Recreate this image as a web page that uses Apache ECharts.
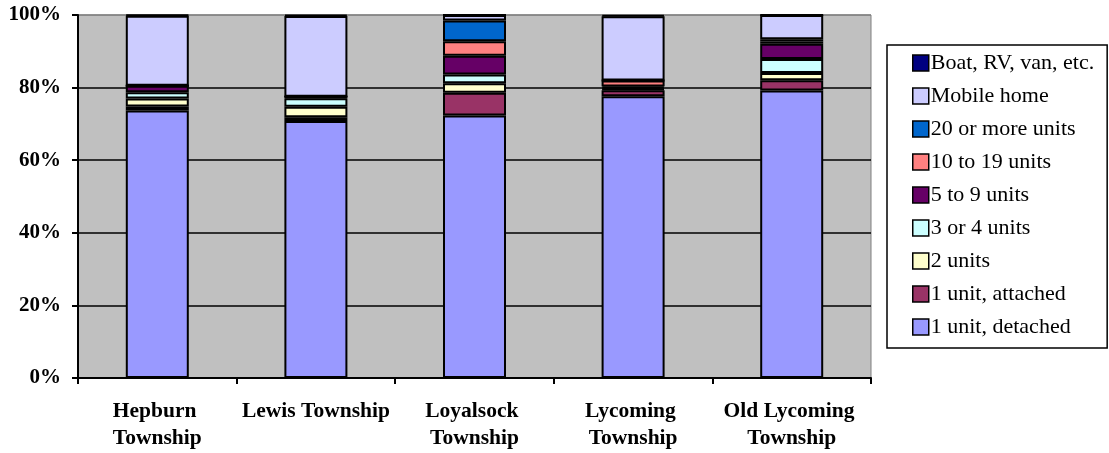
<!DOCTYPE html>
<html>
<head>
<meta charset="utf-8">
<title>Units in Structure by Township</title>
<script src="https://cdn.jsdelivr.net/npm/echarts@6/dist/echarts.min.js"></script>
<style>
  html, body { margin: 0; padding: 0; background: #fff; }
  #chart { width: 1109px; height: 453px; }
</style>
</head>
<body>
<div id="chart"></div>
<script>
// Townships along the category axis
const townships = ['Hepburn Township', 'Lewis Township', 'Loyalsock Township', 'Lycoming Township', 'Old Lycoming Township'];

// Share of housing units (%) by units in structure, one array per type
const oneUnitDetached = [73.7, 70.8, 72.3, 77.6, 79.2];
const oneUnitAttached = [1.1, 1.0, 6.3, 1.7, 2.8];
const twoUnits        = [2.2, 2.9, 2.6, 0.3, 2.0];
const threeOrFour     = [1.7, 2.4, 2.4, 0.3, 3.9];
const fiveToNine      = [1.8, 0.4, 5.2, 0.4, 4.2];
const tenToNineteen   = [0, 0, 4.0, 1.65, 0.6];
const twentyOrMore    = [0, 0, 5.7, 0, 0.6];
const mobileHome      = [19.3, 22.2, 1.5, 17.7, 6.7];
const boatRvVan       = [0.2, 0.3, 0, 0.35, 0];

// Value axis ticks
const yTicks = [0, 20, 40, 60, 80, 100];

const seriesDefs = [
  { name: '1 unit, detached', data: oneUnitDetached, color: '#9999FF' },
  { name: '1 unit, attached', data: oneUnitAttached, color: '#993366' },
  { name: '2 units', data: twoUnits, color: '#FFFFCC' },
  { name: '3 or 4 units', data: threeOrFour, color: '#CCFFFF' },
  { name: '5 to 9 units', data: fiveToNine, color: '#660066' },
  { name: '10 to 19 units', data: tenToNineteen, color: '#FF8080' },
  { name: '20 or more units', data: twentyOrMore, color: '#0066CC' },
  { name: 'Mobile home', data: mobileHome, color: '#CCCCFF' },
  { name: 'Boat, RV, van, etc.', data: boatRvVan, color: '#000080' }
];

const serif = "'Liberation Serif', 'Times New Roman', serif";

const chart = echarts.init(document.getElementById('chart'), null, { renderer: 'canvas' });

chart.setOption({
  animation: false,
  backgroundColor: '#ffffff',
  textStyle: { fontFamily: serif, color: '#000' },
  grid: {
    left: 78, right: 238, top: 15, bottom: 75,
    show: true,
    backgroundColor: '#C0C0C0',
    borderColor: '#808080',
    borderWidth: 1
  },
  legend: {
    orient: 'vertical',
    left: 887,
    top: 45,
    padding: [7, 13, 10, 25],
    backgroundColor: '#ffffff',
    borderColor: '#000000',
    borderWidth: 1.5,
    borderRadius: 0,
    itemWidth: 16,
    itemHeight: 16,
    itemGap: 11,
    icon: 'rect',
    selectedMode: false,
    data: seriesDefs.map(s => s.name).reverse(),
    itemStyle: { borderColor: '#000', borderWidth: 1.5 },
    textStyle: { fontFamily: serif, fontSize: 22, lineHeight: 22, color: '#000', padding: [0, 0, 0, -3] }
  },
  xAxis: {
    type: 'category',
    data: townships,
    boundaryGap: true,
    axisLine: { show: true, lineStyle: { color: '#000', width: 2 } },
    axisTick: { show: true, alignWithLabel: false, length: 6, lineStyle: { color: '#000', width: 2 } },
    axisLabel: {
      interval: 0,
      margin: 20,
      width: 158,
      overflow: 'break',
      fontFamily: serif,
      fontSize: 21.5,
      lineHeight: 27,
      fontWeight: 'bold',
      color: '#000',
      align: 'center'
    }
  },
  yAxis: {
    type: 'value',
    min: yTicks[0],
    max: yTicks[yTicks.length - 1],
    interval: 20,
    axisLine: { show: true, lineStyle: { color: '#000', width: 2 } },
    axisTick: { show: true, length: 6, lineStyle: { color: '#000', width: 2 } },
    axisLabel: {
      margin: 17,
      formatter: '{value}%',
      fontFamily: serif,
      fontSize: 21,
      fontWeight: 'bold',
      color: '#000'
    },
    splitLine: {
      show: true,
      lineStyle: { color: ['#000', '#000', '#000', '#000', '#000', '#808080'], width: 1.5 }
    }
  },
  series: seriesDefs.map(s => ({
    name: s.name,
    type: 'bar',
    stack: 'units',
    barWidth: 63,
    data: s.data,
    itemStyle: { color: s.color, borderColor: '#000', borderWidth: 2 },
    emphasis: { disabled: true }
  }))
});
</script>
</body>
</html>
